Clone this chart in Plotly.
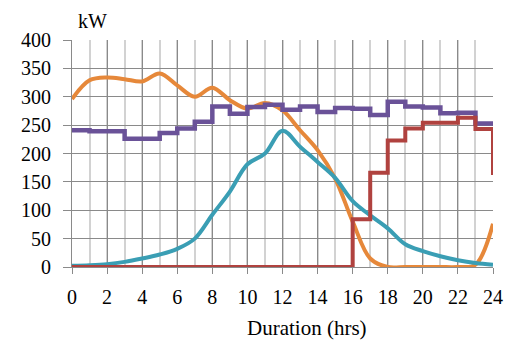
import plotly.graph_objects as go

hours = list(range(25))
orange = [296, 329, 334, 331, 327, 341, 320, 300, 316, 294, 279, 289, 276, 241, 206, 156, 80, 15, 0, 0, 0, 0, 0, 4, 76]
teal = [2, 3, 5, 9, 15, 22, 32, 50, 92, 133, 181, 200, 240, 212, 185, 157, 116, 91, 68, 40, 28, 19, 12, 7, 4]
purple = [241, 239, 239, 226, 226, 236, 244, 256, 283, 270, 282, 286, 277, 283, 273, 280, 279, 268, 291, 283, 281, 271, 272, 253, 253]
red = [0] * 16 + [84, 166, 223, 244, 254, 254, 263, 243, 162]

x_ticks = list(range(0, 25, 2))
y_ticks = list(range(0, 401, 50))

FONT = "Liberation Serif"

fig = go.Figure()
fig.add_trace(go.Scatter(x=hours, y=orange, mode="lines",
                         line=dict(color="#E6883A", width=4, shape="spline", smoothing=1.0)))
fig.add_trace(go.Scatter(x=hours, y=teal, mode="lines",
                         line=dict(color="#3A9EB4", width=4, shape="spline", smoothing=1.0)))
fig.add_trace(go.Scatter(x=hours, y=purple, mode="lines",
                         line=dict(color="#6A5298", width=4.5, shape="hv")))
fig.add_trace(go.Scatter(x=hours, y=red, mode="lines",
                         line=dict(color="#B0423F", width=4, shape="hv")))

W, H = 505, 347
L, R, T, B = 72, 12, 40, 80
pw, ph = W - L - R, H - T - B

def px(xp):
    return (xp - L) / pw

def py(yp):
    return (H - B - yp) / ph

fig.update_layout(
    width=W, height=H,
    margin=dict(l=L, r=R, t=T, b=B, autoexpand=False),
    paper_bgcolor="white", plot_bgcolor="white",
    showlegend=False,
    font=dict(family=FONT, size=20, color="black"),
    xaxis=dict(range=[0, 24], tickmode="array", tickvals=x_ticks,
               ticktext=[str(v) for v in x_ticks], automargin=False,
               showgrid=True, gridcolor="#8a8a8a", gridwidth=1,
               minor=dict(dtick=1, tick0=0, showgrid=True, gridcolor="#d2d2d2", gridwidth=1.5),
               ticks="outside", ticklen=6, tickcolor="#8a8a8a",
               showline=True, linecolor="#8a8a8a", linewidth=1,
               zeroline=False, ticklabelstandoff=6,
               tickfont=dict(family=FONT, size=20)),
    yaxis=dict(range=[0, 400], tickmode="array", tickvals=y_ticks,
               ticktext=[str(v) for v in y_ticks], automargin=False,
               showgrid=True, gridcolor="#8a8a8a", gridwidth=1,
               ticks="outside", ticklen=8, tickcolor="#8a8a8a",
               showline=True, linecolor="#8a8a8a", linewidth=1,
               zeroline=False, ticklabelstandoff=8,
               tickfont=dict(family=FONT, size=20)),
    annotations=[
        dict(text="kW", x=px(92), y=py(21), xref="paper", yref="paper",
             showarrow=False, font=dict(family=FONT, size=20), xanchor="center", yanchor="middle"),
        dict(text="Duration (hrs)", x=px(307), y=py(328), xref="paper", yref="paper",
             showarrow=False, font=dict(family=FONT, size=21), xanchor="center", yanchor="middle"),
    ],
)

fig.write_html("out.html", config={"displayModeBar": False},
               post_script="document.body.style.margin='0';")
